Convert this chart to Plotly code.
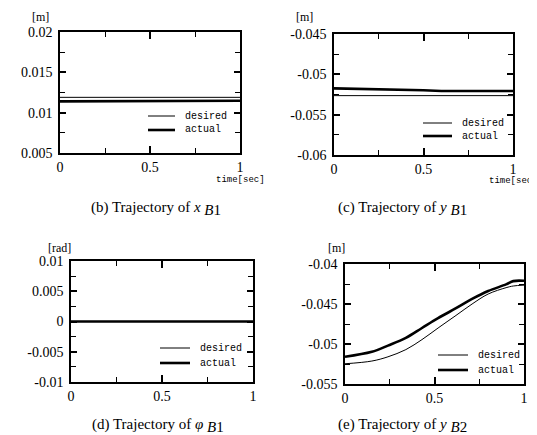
import plotly.graph_objects as go

W, H = 537, 435

# ---------------- data ----------------
t_flat = [0.0, 0.33, 0.34, 1.0]
xb1_desired = [0.0119, 0.0119, 0.0119, 0.0119]
xb1_actual = [0.01140, 0.01140, 0.01147, 0.01147]

t_yb1 = [0.0, 0.26, 0.5, 0.6, 1.0]
yb1_desired = [-0.05264, -0.05264, -0.05264, -0.05264, -0.05264]
yb1_actual = [-0.05174, -0.05182, -0.05198, -0.05207, -0.05207]

t_phi = [0.0, 1.0]
phi_desired = [0.0, 0.0]
phi_actual = [0.0, 0.0]

t_yb2 = [0.0, 0.15, 0.24, 0.34, 0.43, 0.52, 0.62, 0.71, 0.80, 0.90, 0.94, 1.0]
yb2_desired = [-0.05247, -0.05213, -0.0516, -0.0507, -0.04945, -0.0480, -0.04643,
               -0.0450, -0.04375, -0.04296, -0.04275, -0.04264]
yb2_actual = [-0.0516, -0.05098, -0.0502, -0.04924, -0.0480, -0.04677, -0.04553,
              -0.04437, -0.04338, -0.04255, -0.04214, -0.0421]

x_ticks = [0, 0.5, 1]
x_ticktext = ["0", "0.5", "1"]
yb1_ticks = [0.005, 0.01, 0.015, 0.02]
yb1_ticktext = ["0.005", "0.01", "0.015", "0.02"]
ycb_ticks = [-0.06, -0.055, -0.05, -0.045]
ycb_ticktext = ["-0.06", "-0.055", "-0.05", "-0.045"]
phi_ticks = [-0.01, -0.005, 0, 0.005, 0.01]
phi_ticktext = ["-0.01", "-0.005", "0", "0.005", "0.01"]
yb2_ticks = [-0.055, -0.05, -0.045, -0.04]
yb2_ticktext = ["-0.055", "-0.05", "-0.045", "-0.04"]

series_names = ["desired", "actual"]
SUB = "<sub><span style='font-size:15px'>%s</span></sub>"
captions = ["(b) Trajectory of <i>x</i> " + SUB % "<i>B</i>1",
            "(c) Trajectory of <i>y</i> " + SUB % "<i>B</i>1",
            "(d) Trajectory of <i>φ</i> " + SUB % "<i>B</i>1",
            "(e) Trajectory of <i>y</i> " + SUB % "<i>B</i>2"]
units = ["[m]", "[m]", "[rad]", "[m]"]

# ---------------- layout helpers ----------------
def px(x):
    return x / W

def py(y):
    return 1 - y / H

boxes = [  # left, right, top, bottom in pixels
    (52, 232, 24, 145),
    (326, 505, 26, 147),
    (63, 245, 253, 374),
    (337, 516, 256, 376),
]

fig = go.Figure()

series = [
    (t_flat, xb1_desired, xb1_actual),
    (t_yb1, yb1_desired, yb1_actual),
    (t_phi, phi_desired, phi_actual),
    (t_yb2, yb2_desired, yb2_actual),
]
THIN, THICK = 1.0, 2.6

for i, (t, d, a) in enumerate(series):
    sfx = "" if i == 0 else str(i + 1)
    shape = "spline" if i == 3 else "linear"
    fig.add_trace(go.Scatter(x=t, y=d, mode="lines", name=series_names[0],
                             line=dict(color="black", width=THIN, shape=shape),
                             xaxis="x" + sfx, yaxis="y" + sfx, showlegend=False))
    fig.add_trace(go.Scatter(x=t, y=a, mode="lines", name=series_names[1],
                             line=dict(color="black", width=THICK, shape=shape),
                             xaxis="x" + sfx, yaxis="y" + sfx, showlegend=False))

tickfont = dict(family="Liberation Serif", size=14, color="black")

yspecs = [
    ([0.005, 0.02], yb1_ticks, yb1_ticktext, 0.0025),
    ([-0.06, -0.045], ycb_ticks, ycb_ticktext, 0.0025),
    ([-0.01, 0.01], phi_ticks, phi_ticktext, 0.0025),
    ([-0.055, -0.04], yb2_ticks, yb2_ticktext, 0.0025),
]

layout = dict(
    width=W, height=H,
    margin=dict(l=0, r=0, t=0, b=0, autoexpand=False),
    paper_bgcolor="white", plot_bgcolor="white",
    showlegend=False,
)

for i, (l, r, t, b) in enumerate(boxes):
    sfx = "" if i == 0 else str(i + 1)
    common = dict(showline=True, linecolor="black", linewidth=1.5,
                  mirror="allticks", ticks="inside", tickcolor="black",
                  tickwidth=1.5, showgrid=False, zeroline=False,
                  tickfont=tickfont, fixedrange=True, automargin=False)
    layout["xaxis" + sfx] = dict(
        common, domain=[px(l), px(r)], range=[0, 1],
        tickmode="array", tickvals=x_ticks, ticktext=x_ticktext, ticklen=7,
        minor=dict(ticks="inside", ticklen=5, tickwidth=1.2, tickcolor="black", dtick=0.25, tick0=0),
        anchor="y" + sfx,
    )
    yr, yt, ytt, ymin = yspecs[i]
    layout["yaxis" + sfx] = dict(
        common, domain=[py(b), py(t)], range=yr,
        tickmode="array", tickvals=yt, ticktext=ytt, ticklen=6,
        ticklabelstandoff=3,
        minor=dict(ticks="inside", ticklen=5, tickwidth=1.2, tickcolor="black", dtick=ymin, tick0=0),
        anchor="x" + sfx,
    )

fig.update_layout(**layout)

# legend keys (drawn manually to match compact spacing)
legpos = [(140, 167, 108, 122), (415, 444, 115, 128), (152, 182, 340, 355), (430, 460, 347, 362)]
shapes = []
annos = []
for (x0, x1, yd, ya) in legpos:
    for yy, w, name in [(yd, THIN, series_names[0]), (ya, THICK, series_names[1])]:
        shapes.append(dict(type="line", xref="paper", yref="paper",
                           x0=px(x0), x1=px(x1), y0=py(yy), y1=py(yy),
                           line=dict(color="black", width=w)))
        annos.append(dict(x=px(x1 + 8), y=py(yy), xref="paper", yref="paper", text=name,
                          xanchor="left", yanchor="middle", showarrow=False,
                          font=dict(family="Liberation Mono", size=10, color="black")))

unitpos = [(32, 9), (296, 9), (51, 240), (328, 240)]
for (ux, uy), u in zip(unitpos, units):
    annos.append(dict(x=px(ux), y=py(uy), xref="paper", yref="paper", text=u,
                      xanchor="center", yanchor="middle", showarrow=False,
                      font=dict(family="Liberation Serif", size=12, color="black")))
for tx, ty in [(232, 172), (505, 173)]:
    annos.append(dict(x=px(tx), y=py(ty), xref="paper", yref="paper", text="time[sec]",
                      xanchor="center", yanchor="middle", showarrow=False,
                      font=dict(family="Liberation Mono", size=9, color="black")))
cappos = [(148, 200), (395, 200), (150, 417), (395, 417)]
for (cx, cy), c in zip(cappos, captions):
    annos.append(dict(x=px(cx), y=py(cy), xref="paper", yref="paper", text=c,
                      xanchor="center", yanchor="middle", showarrow=False,
                      font=dict(family="Liberation Serif", size=15, color="black")))
fig.update_layout(annotations=annos, shapes=shapes)

fig.write_html("out.html")
